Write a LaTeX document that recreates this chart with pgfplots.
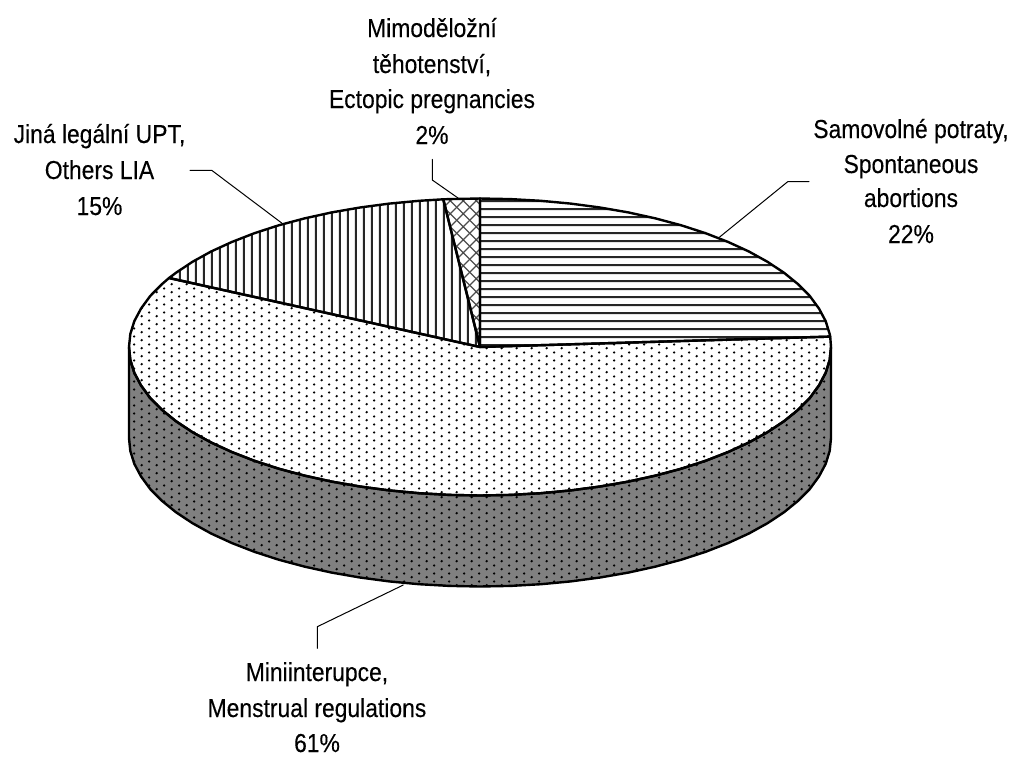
\documentclass[border=0pt]{standalone}
\usepackage{fontspec}
\setmainfont[FakeStretch=0.88,FakeBold=0.2]{Liberation Sans}
\usepackage{pgfplots}
\pgfplotsset{compat=1.18}
\usetikzlibrary{patterns}
\pgfdeclarepatternformonly{myh}{\pgfqpoint{0pt}{0pt}}{\pgfqpoint{4pt}{7.7pt}}{\pgfqpoint{4pt}{7.7pt}}{%
  \pgfsetlinewidth{1.9pt}\pgfpathmoveto{\pgfqpoint{-1pt}{3pt}}\pgfpathlineto{\pgfqpoint{5pt}{3pt}}\pgfusepath{stroke}}
\pgfdeclarepatternformonly{myv}{\pgfqpoint{0pt}{0pt}}{\pgfqpoint{7.7pt}{4pt}}{\pgfqpoint{7.7pt}{4pt}}{%
  \pgfsetlinewidth{1.9pt}\pgfpathmoveto{\pgfqpoint{3pt}{-1pt}}\pgfpathlineto{\pgfqpoint{3pt}{5pt}}\pgfusepath{stroke}}
\pgfdeclarepatternformonly{myx}{\pgfqpoint{0pt}{0pt}}{\pgfqpoint{12.7pt}{12.7pt}}{\pgfqpoint{12.7pt}{12.7pt}}{%
  \pgfsetlinewidth{1.2pt}\pgfpathmoveto{\pgfqpoint{-1pt}{-1pt}}\pgfpathlineto{\pgfqpoint{13.7pt}{13.7pt}}
  \pgfpathmoveto{\pgfqpoint{-1pt}{13.7pt}}\pgfpathlineto{\pgfqpoint{13.7pt}{-1pt}}\pgfusepath{stroke}}
\pgfdeclarepatternformonly{myd}{\pgfqpoint{0pt}{0pt}}{\pgfqpoint{15.4pt}{7.7pt}}{\pgfqpoint{15.4pt}{7.7pt}}{%
  \pgfpathcircle{\pgfqpoint{3.85pt}{1.9pt}}{1.35pt}\pgfpathcircle{\pgfqpoint{11.55pt}{5.75pt}}{1.35pt}\pgfusepath{fill}}
\begin{document}
\begin{tikzpicture}
\begin{axis}[hide axis, scale only axis, width=1015pt, height=756pt,
  xmin=0, xmax=1015, ymin=0, ymax=756, y dir=reverse, clip=false,
  every axis plot/.append style={mark=none, line join=round, line cap=round}]
% page extent
\addplot[draw=none] coordinates {(0,0)(1015,756)};
% side band
\addplot[fill=black!50, draw=none] coordinates {
(831,347)(829.7,359.9)(825.7,372.8)(819,385.4)(809.8,398)(798.1,409.8)(784,421.25)(767.5,432.2)(748.9,442.5)(728.2,452)(705.6,460.8)(681.3,468.7)(655.5,475.6)(628.3,481.6)(600,486.5)(570.8,490.4)(540.9,493.2)(510.6,494.9)(480,495.5)
(449.4,494.9)(419.1,493.2)(389.2,490.4)(360,486.5)(331.7,481.6)(304.5,475.6)(278.7,468.7)(254.4,460.8)(231.8,452)(211.1,442.5)(192.5,432.2)(176,421.25)(161.9,409.8)(150.2,398)(141,385.4)(134.3,372.8)(130.3,359.9)(129,347)
(129,438)(130.3,450.9)(134.3,463.8)(141,476.4)(150.2,489)(161.9,500.8)(176,512.25)(192.5,523.2)(211.1,533.5)(231.8,543)(254.4,551.8)(278.7,559.7)(304.5,566.6)(331.7,572.6)(360,577.5)(389.2,581.4)(419.1,584.2)(449.4,585.9)(480,586.5)
(510.6,585.9)(540.9,584.2)(570.8,581.4)(600,577.5)(628.3,572.6)(655.5,566.6)(681.3,559.7)(705.6,551.8)(728.2,543)(748.9,533.5)(767.5,523.2)(784,512.25)(798.1,500.8)(809.8,489)(819,476.4)(825.7,463.8)(829.7,450.9)(831,438)(831,347)};
\addplot[pattern=myd, pattern color=black, draw=black, line width=2.4pt] coordinates {
(831,347)(829.7,359.9)(825.7,372.8)(819,385.4)(809.8,398)(798.1,409.8)(784,421.25)(767.5,432.2)(748.9,442.5)(728.2,452)(705.6,460.8)(681.3,468.7)(655.5,475.6)(628.3,481.6)(600,486.5)(570.8,490.4)(540.9,493.2)(510.6,494.9)(480,495.5)
(449.4,494.9)(419.1,493.2)(389.2,490.4)(360,486.5)(331.7,481.6)(304.5,475.6)(278.7,468.7)(254.4,460.8)(231.8,452)(211.1,442.5)(192.5,432.2)(176,421.25)(161.9,409.8)(150.2,398)(141,385.4)(134.3,372.8)(130.3,359.9)(129,347)
(129,438)(130.3,450.9)(134.3,463.8)(141,476.4)(150.2,489)(161.9,500.8)(176,512.25)(192.5,523.2)(211.1,533.5)(231.8,543)(254.4,551.8)(278.7,559.7)(304.5,566.6)(331.7,572.6)(360,577.5)(389.2,581.4)(419.1,584.2)(449.4,585.9)(480,586.5)
(510.6,585.9)(540.9,584.2)(570.8,581.4)(600,577.5)(628.3,572.6)(655.5,566.6)(681.3,559.7)(705.6,551.8)(728.2,543)(748.9,533.5)(767.5,523.2)(784,512.25)(798.1,500.8)(809.8,489)(819,476.4)(825.7,463.8)(829.7,450.9)(831,438)(831,347)};
% 61 % slice
\addplot[pattern=myd, pattern color=black, draw=black, line width=2.4pt] coordinates {
(480,347)(830.2,336.6)(831,347)(829.7,359.9)(825.7,372.8)(819,385.4)(809.8,398)(798.1,409.8)(784,421.25)(767.5,432.2)(748.9,442.5)(728.2,452)(705.6,460.8)(681.3,468.7)(655.5,475.6)(628.3,481.6)(600,486.5)(570.8,490.4)(540.9,493.2)(510.6,494.9)(480,495.5)
(449.4,494.9)(419.1,493.2)(389.2,490.4)(360,486.5)(331.7,481.6)(304.5,475.6)(278.7,468.7)(254.4,460.8)(231.8,452)(211.1,442.5)(192.5,432.2)(176,421.25)(161.9,409.8)(150.2,398)(141,385.4)(134.3,372.8)(130.3,359.9)(129,347)
(130.3,334.1)(134.3,321.2)(141,308.6)(150.2,296)(161.9,284.2)(169,278)(480,347)};
% 22 % slice
\addplot[pattern=myh, pattern color=black!85, draw=black, line width=2.4pt] coordinates {
(480,347)(480,198.5)(510.6,199.1)(540.9,200.8)(570.8,203.6)(600,207.5)(628.3,212.4)(655.5,218.4)(681.3,225.3)(705.6,233.2)(728.2,242)(748.9,251.5)(767.5,261.8)(784,272.75)(798.1,284.2)(809.8,296)(819,308.6)(825.7,321.2)(829.7,334.1)(830.2,336.6)(480,347)};
% 15 % slice
\addplot[pattern=myv, pattern color=black!85, draw=black, line width=2.4pt] coordinates {
(480,347)(169,278)(176,272.75)(192.5,261.8)(211.1,251.5)(231.8,242)(254.4,233.2)(278.7,225.3)(304.5,218.4)(331.7,212.4)(360,207.5)(389.2,203.6)(419.1,200.8)(443.3,199.3)(480,347)};
% 2 % slice
\addplot[pattern=myx, pattern color=black!70, draw=black, line width=2.4pt] coordinates {
(480,347)(443.3,199.3)(449.4,199.1)(480,198.5)(480,347)};
% leaders
\addplot[black, line width=1pt] coordinates {(719.3,237.3)(787.7,181.7)(809,181.7)};
\addplot[black, line width=1pt] coordinates {(403.3,585)(317.3,626.7)(317.3,648.3)};
\addplot[black, line width=1pt] coordinates {(458,198)(432.3,180)(432.3,159.3)};
\addplot[black, line width=1pt] coordinates {(281.7,223)(211.7,170.3)(190,170.3)};
% labels
\tikzset{lab/.style={anchor=base, inner sep=0pt, font=\fontsize{26pt}{30pt}\selectfont}}
\node[lab] at (axis cs:432,37) {Mimoděložní};
\node[lab] at (axis cs:432,73) {těhotenství,};
\node[lab] at (axis cs:432,108) {Ectopic pregnancies};
\node[lab] at (axis cs:432,144) {2\%};
\node[lab] at (axis cs:99.5,143) {Jiná legální UPT,};
\node[lab] at (axis cs:99.5,179) {Others LIA};
\node[lab] at (axis cs:99.5,215) {15\%};
\node[lab] at (axis cs:911,138) {Samovolné potraty,};
\node[lab] at (axis cs:911,173) {Spontaneous};
\node[lab] at (axis cs:911,207) {abortions};
\node[lab] at (axis cs:911,243) {22\%};
\node[lab] at (axis cs:317,681) {Miniinterupce,};
\node[lab] at (axis cs:317,717) {Menstrual regulations};
\node[lab] at (axis cs:317,752) {61\%};
\end{axis}
\end{tikzpicture}
\end{document}
